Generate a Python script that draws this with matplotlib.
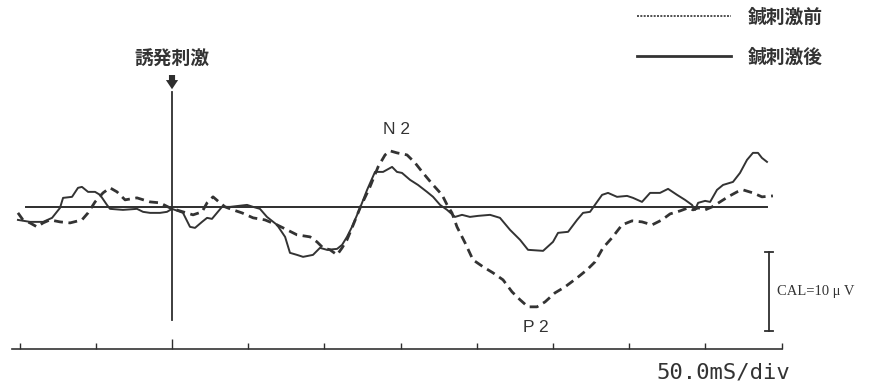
import matplotlib
matplotlib.use('Agg')
import matplotlib.pyplot as plt
from matplotlib.lines import Line2D
from matplotlib.ticker import FixedLocator, NullFormatter
import numpy as np

# ---- data (time in ms, amplitude in μV; negative plotted upward) ----
after_t = [-101.1, -93.2, -84.6, -78.7, -73.5, -71.5, -65.6, -61.7, -59.1, -55.1,
           -50.5, -47.2, -42.7, -40.7, -32.2, -23.0, -19.0, -14.4, -7.9, -3.3,
           0.0, 7.2, 11.8, 15.1, 19.7, 23.0, 26.2, 29.5, 32.8, 38.1,
           49.2, 53.2, 57.7, 62.3, 68.9, 74.2, 77.4, 82.0, 86.0, 92.5,
           97.1, 101.7, 108.3, 111.6, 114.8, 118.1, 123.4, 128.0, 133.2, 138.5,
           144.4, 147.6, 150.9, 156.2, 161.4, 167.3, 171.3, 175.9, 180.5, 185.7,
           190.3, 195.5, 200.8, 208.7, 215.2, 221.8, 228.4, 233.6, 243.5, 250.0,
           253.3, 259.9, 265.8, 269.7, 274.3, 278.9, 282.2, 286.1, 292.0, 298.6,
           302.5, 308.4, 313.7, 320.2, 325.5, 331.4, 336.6, 341.2, 343.2, 345.2,
           349.8, 353.1, 357.6, 361.6, 368.1, 372.7, 377.3, 381.2, 384.5, 387.1,
           390.4]
after_v = [1.65, 1.90, 1.90, 1.39, 0.13, -1.14, -1.27, -2.41, -2.53, -1.90,
           -1.90, -1.52, -0.25, 0.25, 0.38, 0.25, 0.63, 0.76, 0.76, 0.63,
           0.25, 0.76, 2.53, 2.66, 1.90, 1.39, 1.52, 0.76, 0.00, 0.00,
           -0.25, 0.00, 0.25, 1.27, 2.28, 3.80, 5.82, 6.08, 6.33, 6.08,
           5.19, 5.44, 5.32, 4.81, 3.80, 2.53, 0.13, -2.15, -4.43, -4.43,
           -5.06, -4.43, -4.30, -3.42, -2.78, -1.90, -1.27, -0.25, 0.38, 1.27,
           1.01, 1.27, 1.14, 1.01, 1.39, 2.91, 4.18, 5.44, 5.57, 4.43,
           3.29, 3.16, 1.65, 0.76, 0.63, -0.63, -1.52, -1.77, -1.27, -1.39,
           -1.14, -0.63, -1.77, -1.77, -2.28, -1.52, -0.89, -0.25, 0.38, -0.51,
           -0.76, -0.63, -2.15, -2.78, -3.16, -4.30, -5.95, -6.84, -6.84, -6.20,
           -5.70]

before_t = [-101.1, -97.8, -93.2, -88.6, -84.6, -80.1, -73.5, -66.9, -59.1, -55.1,
            -50.5, -45.3, -40.7, -36.1, -30.8, -23.0, -14.4, -7.9, -1.3, 7.2,
            13.8, 19.7, 23.0, 26.9, 31.5, 34.8, 40.0, 45.9, 53.2, 61.0,
            68.9, 75.5, 82.0, 90.6, 95.1, 99.1, 103.7, 108.3, 111.6, 114.8,
            118.1, 123.4, 129.9, 135.2, 139.8, 143.1, 147.6, 154.2, 159.5, 164.7,
            171.3, 177.2, 180.5, 183.7, 187.0, 192.3, 197.5, 204.1, 210.6, 217.2,
            223.1, 228.4, 233.6, 239.5, 244.8, 251.3, 257.9, 265.8, 272.3, 277.6,
            282.8, 288.7, 295.3, 301.9, 308.4, 315.0, 321.5, 326.8, 333.4, 338.6,
            341.9, 345.2, 349.8, 354.4, 359.6, 364.8, 370.8, 374.7, 381.2, 387.1,
            394.3]
before_v = [0.76, 1.65, 2.03, 2.53, 2.03, 1.65, 1.90, 2.03, 1.65, 0.76,
            -0.63, -1.77, -2.41, -1.90, -0.89, -1.14, -0.63, -0.51, 0.13, 0.63,
            1.01, 0.63, -0.51, -1.27, -0.51, 0.00, 0.38, 0.76, 1.39, 1.65,
            2.28, 2.91, 3.54, 3.80, 4.43, 5.19, 5.44, 6.08, 5.19, 4.18,
            2.66, 0.13, -2.53, -5.06, -6.58, -7.09, -6.84, -6.58, -5.57, -4.30,
            -2.78, -1.52, -0.25, 0.76, 2.53, 4.56, 6.71, 7.59, 8.35, 9.24,
            10.76, 11.77, 12.66, 12.66, 12.03, 10.89, 10.13, 8.99, 7.97, 6.96,
            5.19, 3.92, 2.28, 1.77, 1.90, 2.28, 1.65, 0.89, 0.51, 0.13,
            0.38, 0.13, 0.38, 0.00, -0.63, -1.27, -1.90, -2.15, -1.77, -1.27,
            -1.39]

series_labels = ['鍼刺激前', '鍼刺激後']
stim_label = '誘発刺激'
peak_labels = ['N 2', 'P 2']
peak_t = [147.0, 238.9]
peak_v = [-9.75, 15.3]
cal_value = 10
cal_label = 'CAL=10 μ V'
time_label = '50.0mS/div'
tick_ms = [-100, -50, 0, 50, 100, 150, 200, 250, 300, 350, 400]

# ---- figure ----
W, H = 880, 385
fig = plt.figure(figsize=(W / 100, H / 100), dpi=100)
fig.patch.set_facecolor('white')

ax = fig.add_axes([12 / W, 1 - 349 / H, 769.6 / W, 349 / H])
ax.set_xlim(-105, 400)
ax.set_ylim(18.0, -26.2)
for s in ['top', 'left', 'right']:
    ax.spines[s].set_visible(False)
ax.spines['bottom'].set_color('#333333')
ax.spines['bottom'].set_linewidth(1.2)
ax.yaxis.set_visible(False)

ink = '#2e2e2e'
ax.xaxis.set_major_locator(FixedLocator([0]))
ax.xaxis.set_minor_locator(FixedLocator([t for t in tick_ms if t != 0]))
ax.xaxis.set_major_formatter(NullFormatter())
ax.tick_params(axis='x', which='major', direction='in', length=7, width=1.0, color=ink)
ax.tick_params(axis='x', which='minor', direction='in', length=4, width=1.0, color=ink)

# baseline
ax.plot([after_t[0] + 5, after_t[-1]], [0, 0], color=ink, lw=1.4)

# curves
ax.plot(before_t, before_v, color='#333333', lw=2.0, linestyle=(0, (3.2, 2.0)))
ax.plot(after_t, after_v, color='#333333', lw=1.4)

# stimulus line + label
ax.plot([0, 0], [-14.6, 14.3], color=ink, lw=1.3)
ax.annotate('', xy=(0, -14.9), xytext=(0, -16.7),
            arrowprops=dict(arrowstyle='simple,head_width=0.8,head_length=0.6,tail_width=0.4',
                            mutation_scale=11, color=ink, lw=0, shrinkA=0, shrinkB=0))
jp = ['Noto Sans CJK JP', 'DejaVu Sans']
ax.text(0, -18.7, stim_label, ha='center', va='center', fontsize=13.5,
        fontweight='bold', family=jp, color='#333333')

# peak labels
for lab, t, v in zip(peak_labels, peak_t, peak_v):
    ax.text(t, v, lab, ha='center', va='center', fontsize=12.5,
            family=['Liberation Sans'], color='#333333')

# calibration bar
cal_t = 391.7
cal_start = 5.7
ax.plot([cal_t, cal_t], [cal_start, cal_start + cal_value], color=ink, lw=1.3, clip_on=False)
ax.plot([cal_t - 2.5, cal_t + 2.5], [cal_start, cal_start], color=ink, lw=1.3, clip_on=False)
ax.plot([cal_t - 2.5, cal_t + 2.5], [cal_start + cal_value, cal_start + cal_value],
        color=ink, lw=1.3, clip_on=False)
ax.text(cal_t + 5, cal_start + cal_value / 2, cal_label, ha='left', va='center',
        fontsize=10.5, family=['Liberation Serif'], color='#333333', clip_on=False)

# time scale label
fig.text(790 / W, 1 - 372 / H, time_label, ha='right', va='center', fontsize=16,
         family=['DejaVu Sans Mono'], color='#333333')

# legend (manual)
leg_styles = [dict(lw=1.2, linestyle=(0, (1.2, 0.8))), dict(lw=2.0, linestyle='-')]
leg_y = [16, 56]
for lab, st, y in zip(series_labels, leg_styles, leg_y):
    fig.add_artist(Line2D([637 / W, 731 / W], [1 - y / H, 1 - y / H],
                          transform=fig.transFigure, color='#333333', **st))
    fig.text(748 / W, 1 - (y + 1) / H, lab, ha='left', va='center', fontsize=13.5,
             fontweight='bold', family=jp, color='#333333')

fig.savefig('out.png', dpi=100, facecolor='white')
